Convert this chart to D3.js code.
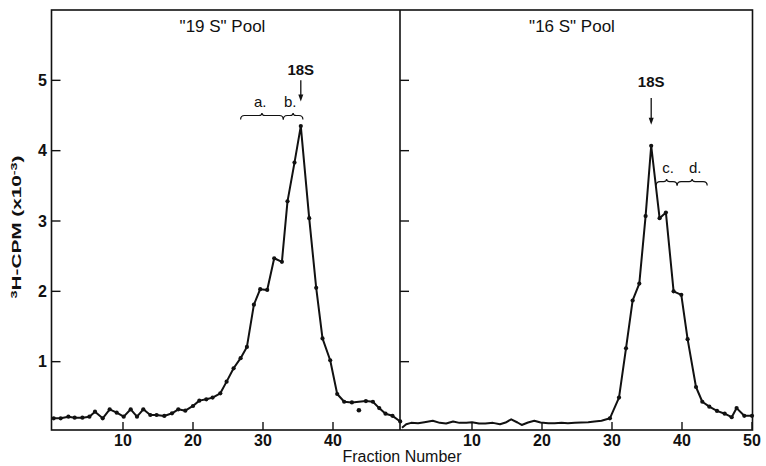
<!DOCTYPE html>
<html>
<head>
<meta charset="utf-8">
<script src="https://cdn.jsdelivr.net/npm/d3@7"></script>
<style>
  body { margin: 0; background: #fff; }
  svg text { font-family: "Liberation Sans", Arial, sans-serif; fill: #111; }
</style>
</head>
<body>
<svg width="766" height="466"></svg>
<script>
// "19 S" pool (left panel): fraction position and cpm x 10^-3
var frac19 = [0.1,1.1,2.2,3.1,4.2,5.2,6.0,7.1,8.1,9.1,10.1,11.1,12.0,12.9,13.9,14.8,15.9,17.0,17.9,18.9,
  20.0,20.9,21.9,22.8,23.9,24.8,25.8,26.8,27.7,28.7,29.6,30.6,31.6,32.7,33.5,34.5,35.4,36.6,37.6,38.5,
  39.6,40.6,41.6,42.7,44.7,45.7,46.6,47.5,48.5,49.6]
var cpm19 = [0.195,0.195,0.218,0.204,0.204,0.218,0.289,0.195,0.323,0.275,0.218,0.323,0.218,0.323,0.242,0.242,0.228,0.266,0.323,0.303,
  0.37,0.446,0.465,0.489,0.55,0.716,0.906,1.05,1.21,1.81,2.03,2.02,2.47,2.42,3.28,3.83,4.35,3.04,2.05,1.33,
  1.02,0.54,0.43,0.42,0.44,0.43,0.34,0.26,0.23,0.15]
// stray point below the line
var stray19 = [{f: 43.7, v: 0.31}]

// "16 S" pool (right panel)
var frac16 = [0.0,0.6,1.3,2.3,3.2,4.4,5.4,6.3,7.3,8.2,9.2,10.0,11.0,11.9,13.0,14.0,14.8,15.6,16.5,17.1,
  18.0,18.9,19.8,20.9,21.8,22.8,23.7,24.7,25.6,26.6,27.5,28.5,29.7,31.0,32.0,32.95,33.9,34.8,35.6,36.8,
  37.7,38.8,39.9,40.8,42.0,42.9,43.9,45.0,46.1,47.1,47.8,48.9,50.0]
var cpm16 = [0.06,0.11,0.13,0.125,0.14,0.16,0.13,0.12,0.15,0.13,0.13,0.14,0.12,0.12,0.13,0.11,0.135,0.18,0.135,0.10,
  0.135,0.16,0.135,0.125,0.125,0.13,0.125,0.13,0.135,0.14,0.15,0.16,0.195,0.49,1.19,1.87,2.11,3.07,4.07,3.04,
  3.12,2.0,1.95,1.32,0.64,0.43,0.36,0.30,0.26,0.21,0.34,0.23,0.23]
var firstDot16 = 32   // baseline of the right panel is drawn without dots

var yTicks = [1, 2, 3, 4, 5]
var xTicksLeft = [10, 20, 30, 40]
var xTicksRight = [10, 20, 30, 40, 50]

var panels = ['"19 S" Pool', '"16 S" Pool']
// annotations (data units)
var peakMarks = [{f: 35.4, label: 5.08, from: 5.0, to: 4.70}, {f: 35.6, label: 4.91, from: 4.75, to: 4.37}]
var braces = [{xs: [26.8, 32.9, 35.7], v: 4.5, labels: ["a.", "b."], at: [29.6, 33.9]},
              {xs: [36.3, 39.3, 43.6], v: 3.56, labels: ["c.", "d."], at: [38.0, 41.9]}]

var svg = d3.select("svg")
var frameTop = 10, frameBottom = 430, frameLeft = 51.5, frameMid = 400, frameRight = 752.5

var xL = d3.scaleLinear().domain([0, 50]).range([53, 403])
var xR = d3.scaleLinear().domain([0, 50]).range([402, 752])
var y = d3.scaleLinear().domain([0, 6]).range([432, 10])

// frame
svg.append("rect")
  .attr("x", frameLeft).attr("y", frameTop)
  .attr("width", frameRight - frameLeft).attr("height", frameBottom - frameTop)
  .attr("fill", "none").attr("stroke", "#111").attr("stroke-width", 1.6)
svg.append("line")
  .attr("x1", frameMid).attr("x2", frameMid).attr("y1", frameTop).attr("y2", frameBottom)
  .attr("stroke", "#111").attr("stroke-width", 1.6)

// y ticks (both panels, pointing inward)
;[frameLeft, frameMid].forEach(function(x0) {
  svg.selectAll(null).data(yTicks).enter().append("line")
    .attr("x1", x0).attr("x2", x0 + 9)
    .attr("y1", d => y(d)).attr("y2", d => y(d))
    .attr("stroke", "#111").attr("stroke-width", 1.4)
})
svg.selectAll(null).data(yTicks).enter().append("text")
  .attr("x", 47).attr("y", d => y(d) + 5.5)
  .attr("text-anchor", "end")
  .attr("font-size", 16).attr("font-weight", "bold")
  .text(d => d)

// x ticks
function xTicks(scale, ticks) {
  svg.selectAll(null).data(ticks).enter().append("line")
    .attr("x1", d => scale(d)).attr("x2", d => scale(d))
    .attr("y1", frameBottom).attr("y2", frameBottom - 8)
    .attr("stroke", "#111").attr("stroke-width", 1.4)
  svg.selectAll(null).data(ticks).enter().append("text")
    .attr("x", d => scale(d)).attr("y", 446)
    .attr("text-anchor", "middle")
    .attr("font-size", 16).attr("font-weight", "bold")
    .text(d => d)
}
xTicks(xL, xTicksLeft)
xTicks(xR, xTicksRight)

// axis titles
svg.append("text")
  .attr("x", 402).attr("y", 462)
  .attr("text-anchor", "middle")
  .attr("font-size", 16)
  .text("Fraction Number")

var yl = svg.append("text")
  .attr("transform", "translate(21,227) rotate(-90)")
  .attr("text-anchor", "middle")
  .attr("font-size", 13).attr("font-weight", "bold")
  .attr("textLength", 143).attr("lengthAdjust", "spacingAndGlyphs")
yl.append("tspan").attr("font-size", 9).attr("dy", -4).text("3")
yl.append("tspan").attr("dy", 4).text("H-CPM (x10")
yl.append("tspan").attr("font-size", 9).attr("dy", -4).text("-3")
yl.append("tspan").attr("dy", 4).text(")")

// panel titles
svg.selectAll(null).data(panels).enter().append("text")
  .attr("x", (d, i) => i === 0 ? 222.5 : 572)
  .attr("y", 32)
  .attr("text-anchor", "middle")
  .attr("font-size", 17)
  .text(d => d)

// curves
var line = d3.line()
function drawSeries(scale, fr, vals, dotFrom) {
  var pts = fr.map((f, i) => [scale(f), y(vals[i])])
  svg.append("path")
    .attr("d", line(pts))
    .attr("fill", "none").attr("stroke", "#111")
    .attr("stroke-width", 2).attr("stroke-linejoin", "round")
  svg.selectAll(null).data(pts.slice(dotFrom)).enter().append("circle")
    .attr("cx", d => d[0]).attr("cy", d => d[1]).attr("r", 2.1)
    .attr("fill", "#111")
}
drawSeries(xL, frac19, cpm19, 0)
drawSeries(xR, frac16, cpm16, firstDot16)

svg.selectAll(null).data(stray19).enter().append("circle")
  .attr("cx", d => xL(d.f)).attr("cy", d => y(d.v)).attr("r", 2.3)
  .attr("fill", "#111")

// 18S arrows
var scales = [xL, xR]
peakMarks.forEach(function(m, i) {
  var x = scales[i](m.f)
  svg.append("text")
    .attr("x", x).attr("y", y(m.label))
    .attr("text-anchor", "middle")
    .attr("font-size", 15).attr("font-weight", "bold")
    .text("18S")
  svg.append("line")
    .attr("x1", x).attr("x2", x)
    .attr("y1", y(m.from)).attr("y2", y(m.to) - 5)
    .attr("stroke", "#111").attr("stroke-width", 1.3)
  svg.append("path")
    .attr("d", "M" + (x - 2.5) + "," + (y(m.to) - 7) + "L" + (x + 2.5) + "," + (y(m.to) - 7) + "L" + x + "," + y(m.to) + "Z")
    .attr("fill", "#111")
})

// braces
function bracePath(x0, x1, yy) {
  var m = (x0 + x1) / 2
  return "M" + x0 + "," + (yy + 4) +
    "Q" + x0 + "," + yy + " " + (x0 + 4) + "," + yy +
    "L" + (m - 3) + "," + yy +
    "Q" + m + "," + yy + " " + m + "," + (yy - 2.5) +
    "Q" + m + "," + yy + " " + (m + 3) + "," + yy +
    "L" + (x1 - 4) + "," + yy +
    "Q" + x1 + "," + yy + " " + x1 + "," + (yy + 4)
}
braces.forEach(function(b, i) {
  var s = scales[i], yy = y(b.v)
  for (var k = 0; k < 2; k++) {
    svg.append("path")
      .attr("d", bracePath(s(b.xs[k]), s(b.xs[k + 1]), yy))
      .attr("fill", "none").attr("stroke", "#111").attr("stroke-width", 1.2)
  }
  svg.selectAll(null).data(b.labels).enter().append("text")
    .attr("x", (d, k) => s(b.at[k])).attr("y", yy - 8.5)
    .attr("text-anchor", "middle")
    .attr("font-size", 15)
    .text(d => d)
})
</script>
</body>
</html>
